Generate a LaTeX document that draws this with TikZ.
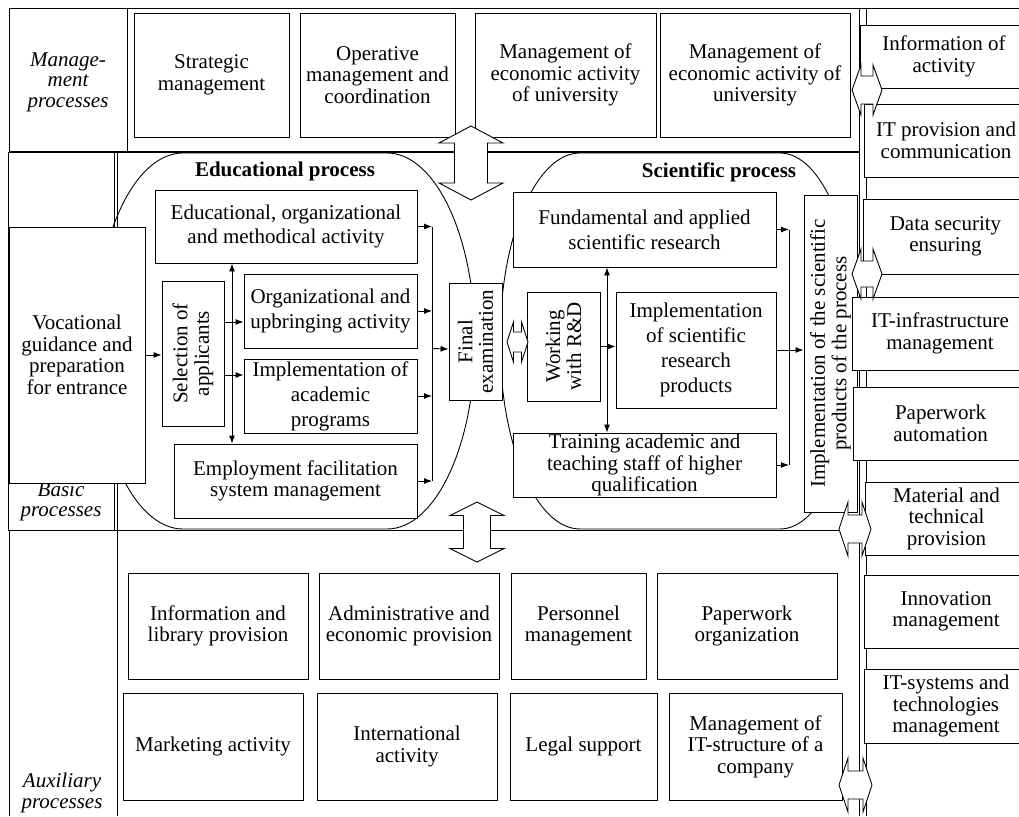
\documentclass[tikz,border=0pt]{standalone}
\usepackage{fontspec}
\setmainfont{Liberation Serif}
\usetikzlibrary{arrows.meta}
\newcommand\fs{\fontsize{21}{21.5}\selectfont}
\newcommand\bx[6][]{\node[bxs,minimum width={(#4-#2)*1pt},minimum height={(#5-#3)*1pt},#1] (#6) at ({(#2+#4)/2},{(#3+#5)/2})}
\newcommand\rbx[6][]{\node[bxs,rotate=90,minimum height={(#4-#2)*1pt},minimum width={(#5-#3)*1pt},#1] (#6) at ({(#2+#4)/2},{(#3+#5)/2})}
\newcommand\hblk[6]{\draw[blk] (#1,#3) -- ({#1+#4},{#3-#5}) -- ({#1+#4},{#3-#6}) -- ({#2-#4},{#3-#6}) -- ({#2-#4},{#3-#5}) -- (#2,#3) -- ({#2-#4},{#3+#5}) -- ({#2-#4},{#3+#6}) -- ({#1+#4},{#3+#6}) -- ({#1+#4},{#3+#5}) -- cycle;}
\newcommand\vblk[6]{\draw[blk] (#1,#2) -- ({#1+#5},{#2+#4}) -- ({#1+#6},{#2+#4}) -- ({#1+#6},{#3-#4}) -- ({#1+#5},{#3-#4}) -- (#1,#3) -- ({#1-#5},{#3-#4}) -- ({#1-#6},{#3-#4}) -- ({#1-#6},{#2+#4}) -- ({#1-#5},{#2+#4}) -- cycle;}
\tikzset{
  bxs/.style={draw, fill=white, align=center, inner sep=0pt, font=\fs},
  lsk/.style={font=\fontsize{21}{#1}\selectfont},
  lbl/.style={align=center, inner sep=0pt, font=\fontsize{21}{20.5}\selectfont\itshape},
  ttl/.style={inner sep=0pt, font=\fs\bfseries},
  arr/.style={-{Latex[length=8pt,width=6pt]}},
  arrb/.style={{Latex[length=8pt,width=6pt]}-{Latex[length=8pt,width=6pt]}},
  blk/.style={draw, fill=white, line join=miter},
  blob/.style={draw},
  thickln/.style={line width=1.7pt}
}
\begin{document}
\begin{tikzpicture}[x=1pt,y=-1pt,line width=0.9pt]
\useasboundingbox (0,0) rectangle (1019,816);
\clip (0,0) rectangle (1019,816);
% frame
\draw (9,152) -- (9,8) -- (1019,8);
\draw (127,8) -- (127,152);
\draw (8,152) -- (8,530) -- (114,530) -- (114,152);
\draw (117,152) -- (117,816);
\draw (9,530) -- (9,816);
\draw (114,530) -- (855,530);
\draw[thickln] (9,152) -- (860,152);
% labels
\node[lbl] (lm) at (68,82) {Manage-\\ment\\processes};
\node[lbl] (lb) at (61,502) {Basic\\processes};
\node[lbl] (la) at (62,793) {Auxiliary\\processes};
% blobs
\draw[blob] (183,153) -- (387,153) arc[start angle=-90,end angle=90,x radius=88,y radius=188] -- (183,529) arc[start angle=90,end angle=270,x radius=88,y radius=188] -- cycle;
\draw[blob] (580,153) -- (780,153) arc[start angle=-90,end angle=90,x radius=77,y radius=188] -- (580,529) arc[start angle=90,end angle=270,x radius=80,y radius=188] -- cycle;
\node[ttl] (et) at (285,171) {Educational process};
\node[ttl] (st) at (719,172) {Scientific process};
% management boxes
\bx{134}{13}{289}{137}{strat}{Strategic\\management};
\bx{300}{13}{455}{137}{oper}{Operative\\management and\\coordination};
\bx{475}{13}{656}{137}{econa}{Management of\\economic activity\\of university};
\bx{660}{13}{850}{137}{econb}{Management of\\economic activity of\\university};
% educational
\bx{9}{227}{145}{483}{voc}{Vocational\\guidance and\\preparation\\for entrance};
\bx[lsk=24.5]{155}{190}{417}{263}{eoma}{Educational, organizational\\and methodical activity};
\rbx{162}{281}{224}{426}{sel}{Selection of\\applicants};
\bx[lsk=25]{244}{274}{417}{348}{oua}{Organizational and\\upbringing activity};
\bx[lsk=25]{244}{359}{417}{433}{iap}{Implementation of\\academic\\programs};
\bx{174}{444}{417}{518}{efs}{Employment facilitation\\system management};
\rbx[lsk=20.5]{449}{283}{502}{400}{fe}{Final\\examination};
% scientific
\bx[lsk=25]{513}{192}{776}{267}{fasr}{Fundamental and applied\\scientific research};
\rbx[lsk=21]{527}{292}{600}{401}{wrd}{Working\\with R\&D};
\bx[lsk=25]{616}{292}{776}{408}{isrp}{Implementation\\of scientific\\research\\products};
\bx{513}{433}{776}{497}{tats}{Training academic and\\teaching staff of higher\\qualification};
\rbx{804}{195}{857}{512}{ispp}{Implementation of the scientific\\products of the process};
% auxiliary
\bx{128}{573}{308}{679}{ilp}{Information and\\library provision};
\bx{319}{573}{499}{679}{aep}{Administrative and\\economic provision};
\bx{511}{573}{646}{679}{pm}{Personnel\\management};
\bx{657}{573}{837}{679}{po}{Paperwork\\organization};
\bx{123}{693}{303}{800}{ma}{Marketing activity};
\bx{317}{693}{497}{800}{ia}{International\\activity};
\bx{510}{693}{657}{800}{legal}{Legal support};
\bx{669}{693}{842}{800}{mits}{Management of\\IT-structure of a\\company};
% connectors educational
\draw[arr] (voc.east) -- (voc.east -| sel.north);
\draw[arr] (sel.south |- 0,322) -- (oua.west |- 0,322);
\draw[arr] (sel.south |- 0,375) -- (iap.west |- 0,375);
\draw[arrb] (eoma.south -| 232,0) -- (efs.north -| 232,0);
\draw[arr] (eoma.east) -- (eoma.east -| 432,0);
\draw[arr] (oua.east) -- (oua.east -| 432,0);
\draw[arr] (iap.east) -- (iap.east -| 432,0);
\draw[arr] (efs.east) -- (efs.east -| 432,0);
\draw (eoma.east -| 432,0) -- (efs.east -| 432,0);
\draw[arr] (fe.north -| 432,0) ++(0,7) -- (fe.north |- 0,349);
% connectors scientific
\draw[arrb] (fasr.south -| 607,0) -- (tats.north -| 607,0);
\draw[arr] (wrd.south) -- (isrp.west |- wrd.south);
\draw[arr] (fasr.east) -- (fasr.east -| 789,0);
\draw[arr] (tats.east) -- (tats.east -| 789,0);
\draw (fasr.east -| 789,0) -- (tats.east -| 789,0);
\draw[arr] (isrp.east) -- (isrp.east -| ispp.north);
% bus
\draw (859,8) -- (859,816);
\draw (866,8) -- (866,816);
% right column
\bx{860}{25}{1028}{88}{ioa}{Information of\\activity};
\bx{864}{104}{1028}{177}{itpc}{IT provision and\\communication};
\bx{863}{199}{1028}{274}{dse}{Data security\\ensuring};
\bx{852}{297}{1028}{370}{itim}{IT-infrastructure\\management};
\bx{853}{387}{1028}{460}{pa}{Paperwork\\automation};
\bx{865}{482}{1028}{555}{mtp}{Material and\\technical\\provision};
\bx{864}{575}{1028}{648}{im}{Innovation\\management};
\bx{864}{669}{1028}{743}{itst}{IT-systems and\\technologies\\management};
% block arrows
\hblk{852}{882}{90}{9}{25}{14}
\hblk{852}{882}{274}{9}{25}{13}
\hblk{839}{871}{529}{9}{27}{14}
\hblk{839}{872}{785}{9}{27}{14}
\vblk{471}{126}{200}{17}{32}{16.5}
\vblk{477}{502}{562}{13.5}{27}{13.5}
\hblk{507}{528}{342}{6.5}{20}{10}
\end{tikzpicture}
\end{document}
